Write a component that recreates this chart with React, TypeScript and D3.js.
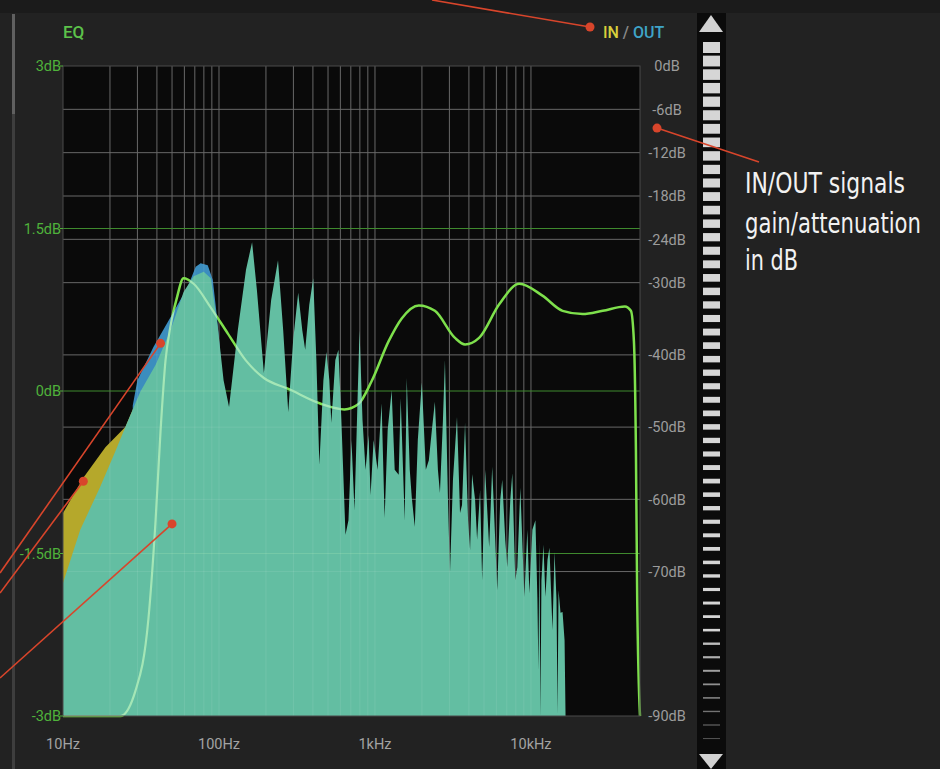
import React from "react";
import * as d3 from "d3";

// axis ticks
const freqTicks = [10, 100, 1000, 10000];
const freqLabels = ["10Hz", "100Hz", "1kHz", "10kHz"];
const eqTicks = [3, 1.5, 0, -1.5, -3];
const eqLabels = ["3dB", "1.5dB", "0dB", "-1.5dB", "-3dB"];
const eqGreenLines = [1.5, 0, -1.5];
const levelTicks = [0, -6, -12, -18, -24, -30, -40, -50, -60, -70, -90];

// spectrum (IN and OUT overlap), [Hz, dB]
const spectrum: [number, number][] = [
  [10, -71.6], [12.9, -64.2], [17.3, -58.3], [21.6, -53.4], [25.1, -50.0], [31.3, -45.1],
  [39.2, -41.4], [48.9, -36.6], [59.3, -31.3], [68.8, -29.1], [79.8, -28.5], [88.6, -29.4],
  [98.2, -36.1], [107, -43.5], [116, -47.2], [132, -36.6], [149, -28.2], [163, -24.4],
  [175, -31.0], [194, -42.5], [216, -32.4], [239, -26.9], [258, -36.6], [278, -47.9],
  [299, -37.9], [322, -31.4], [342, -36.6], [357, -39.3], [379, -33.1], [402, -29.4],
  [421, -40.7], [440, -55.2], [467, -43.5], [488, -39.6], [510, -43.5], [525, -49.4],
  [557, -40.7], [583, -39.3], [609, -49.0], [647, -64.9], [676, -62.9], [707, -51.8],
  [739, -61.5], [773, -46.2], [796, -36.6], [832, -49.0], [870, -55.9], [910, -51.1],
  [937, -59.4], [980, -51.8], [1039, -55.9], [1103, -46.7], [1153, -62.6], [1206, -50.4],
  [1279, -44.9], [1338, -55.9], [1419, -56.6], [1462, -46.0], [1551, -62.9], [1598, -43.2],
  [1671, -55.9], [1721, -59.7], [1800, -63.8], [1882, -51.8], [1997, -43.8], [2118, -55.9],
  [2215, -54.6], [2316, -50.4], [2421, -46.5], [2532, -55.9], [2609, -59.1], [2727, -49.0],
  [2809, -40.7], [2937, -60.1], [3025, -70.2], [3162, -57.3], [3356, -48.6], [3509, -61.9],
  [3614, -60.8], [3779, -49.4], [3952, -62.9], [4071, -67.0], [4193, -56.5], [4384, -60.1],
  [4515, -65.6], [4721, -58.7], [4863, -71.2], [5085, -55.9], [5395, -66.6], [5641, -55.5],
  [5898, -65.6], [6076, -72.6], [6352, -60.1], [6545, -57.3], [6842, -65.6], [7047, -69.4],
  [7368, -60.1], [7590, -56.4], [7935, -71.2], [8175, -69.4], [8547, -58.4], [9069, -73.5],
  [9480, -64.2], [9765, -73.0], [10210, -64.2], [10680, -62.9], [11000, -73.9], [11160, -83.6],
  [11330, -65.6], [11500, -90], [11670, -71.2], [12020, -66.3], [12380, -73.5], [12760, -68.4],
  [13140, -66.7], [13740, -78.1], [14160, -67.3], [14580, -73.9], [14800, -89.6], [15020, -72.6],
  [15470, -75.7], [15940, -75.6], [16420, -79.5], [16660, -90],
];

// where IN is louder than OUT
const inOnly: [number, number][] = [
  [10, -61.9], [13.5, -57.0], [18.7, -52.8], [25.1, -50.0], [31.3, -45.1], [40, -48],
];

// where OUT is louder than IN
const outOnly: [number, number][] = [
  [28, -47], [30, -43.5], [38, -38.9], [48.9, -34.8], [63, -30.6], [70.9, -27.8],
  [76.3, -27.3], [84.7, -27.6], [91.2, -29.6], [96.8, -34.5], [102.7, -40.7],
];

// EQ response, [Hz, dB] on the ±3dB scale
const eqCurve: [number, number][] = [
  [10, -3], [23.3, -3], [29.1, -2.77], [35.3, -2.1], [39.2, -1.2], [42.2, -0.37],
  [45.4, 0.28], [48.9, 0.6], [53.5, 0.85], [59.3, 1.04], [68.8, 0.99], [88.6, 0.77],
  [114, 0.53], [149, 0.28], [194, 0.12], [278, 0.02], [453, -0.12], [637, -0.17],
  [784, -0.12], [951, 0.09], [1224, 0.46], [1484, 0.67], [1910, 0.79], [2421, 0.74],
  [3257, 0.49], [3779, 0.43], [4650, 0.49], [6258, 0.8], [8422, 0.99], [11845, 0.88],
  [15940, 0.74], [21440, 0.71], [28850, 0.74], [39990, 0.78], [43710, 0.74], [45700, 0.46],
  [47080, -0.55], [48000, -1.94], [50000, -3],
];

const W = 940;
const H = 769;
const plot = { left: 63, right: 640, top: 66, bottom: 716 };
const RED = "#d8452b";
const GRID = "#686868";
const LABEL_FONT = "Roboto, 'DejaVu Sans', sans-serif";
const NOTE_FONT = "'DejaVu Sans Condensed', 'DejaVu Sans', sans-serif";

const App = () => {
  const x = d3.scaleLog().domain([10, 50000]).range([plot.left, plot.right]);
  const yEq = d3.scaleLinear().domain([-3, 3]).range([plot.bottom, plot.top]);
  const yLevel = d3.scaleLinear().domain([-90, 0]).range([plot.bottom, plot.top]);

  const area = d3
    .area<[number, number]>()
    .x((d) => x(d[0]))
    .y0(yLevel(-90))
    .y1((d) => yLevel(d[1]));
  const eqLine = d3
    .line<[number, number]>()
    .x((d) => x(d[0]))
    .y((d) => yEq(d[1]))
    .curve(d3.curveMonotoneX);

  const gridFreqs = d3
    .range(1, 5)
    .flatMap((e) => d3.range(1, 10).map((m) => m * 10 ** e))
    .filter((f) => f > 10 && f <= 10000);

  const grid = (stroke: string, op: number, pre: string) => (
    <g stroke={stroke} strokeOpacity={op}>
      {gridFreqs.map((f) => (
        <line key={pre + f} x1={x(f)} x2={x(f)} y1={plot.top} y2={plot.bottom} />
      ))}
      {levelTicks.slice(1, -1).map((t) => (
        <line key={pre + "h" + t} x1={plot.left} x2={plot.right} y1={yLevel(t)} y2={yLevel(t)} />
      ))}
    </g>
  );

  // meter segments of the scroll strip
  const segs = d3.range(52);
  const segH = d3.scaleLinear().domain([0, 51]).range([11, 1]);
  const segColor = (i: number) =>
    i < 44 ? "#d6d6d6" : d3.interpolateRgb("#bdbdbd", "#555")((i - 44) / 7);

  const notes = [
    { from: [432, 0], to: [590, 27] },
    { from: [759, 162], to: [657, yLevel(-8.6)] },
    { from: [0, 573], to: [x(42.2), yLevel(-38.4)] },
    { from: [0, 593], to: [x(13.5), yLevel(-57.5)] },
    { from: [0, 678], to: [x(50), yLevel(-63.4)] },
  ];

  const noteLines = [
    { text: "IN/OUT signals", y: 193, len: 160 },
    { text: "gain/attenuation", y: 233, len: 176 },
    { text: "in dB", y: 270, len: 53 },
  ];

  return (
    <svg
      width={W}
      height={H}
      style={{ position: "absolute", left: 0, top: 0, display: "block" }}
    >
      <defs>
        <clipPath id="fillClip">
          <path d={area(spectrum) || ""} />
          <path d={area(outOnly) || ""} />
        </clipPath>
      </defs>
      <rect width={W} height={H} fill="#222222" />
      <rect width={W} height={13} fill="#1b1b1b" />
      <rect x={12} y={14} width={3} height={H - 14} fill="#3e3e3e" />
      <rect x={12} y={14} width={3} height={100} fill="#606060" />

      {/* plot */}
      <rect
        x={plot.left}
        y={plot.top}
        width={plot.right - plot.left}
        height={plot.bottom - plot.top}
        fill="#0a0a0a"
      />
      {grid(GRID, 1, "g")}
      {eqGreenLines.map((t) => (
        <line key={t} x1={plot.left} x2={plot.right} y1={yEq(t)} y2={yEq(t)} stroke="#3f8a2e" />
      ))}

      <path d={eqLine(eqCurve) || ""} fill="none" stroke="#7ee04c" strokeWidth={2.5} />

      <path d={area(inOnly) || ""} fill="#b5a82b" />
      <path d={area(outOnly) || ""} fill="#3b8dbe" />
      <path d={area(spectrum) || ""} fill="#63bea2" />

      {/* grid faintly visible through the fill */}
      <g clipPath="url(#fillClip)">
        {grid("#ffffff", 0.09, "o")}
        {eqGreenLines.map((t) => (
          <line
            key={"o" + t}
            x1={plot.left}
            x2={plot.right}
            y1={yEq(t)}
            y2={yEq(t)}
            stroke="#c8ffc0"
            strokeOpacity={0.18}
          />
        ))}
      </g>

      <path
        d={eqLine(eqCurve) || ""}
        fill="none"
        stroke="#a4e6b6"
        strokeWidth={2.2}
        clipPath="url(#fillClip)"
      />

      <rect
        x={plot.left}
        y={plot.top}
        width={plot.right - plot.left}
        height={plot.bottom - plot.top}
        fill="none"
        stroke="#4a4a4a"
      />

      {/* left EQ axis */}
      {eqTicks.map((t, i) => (
        <g key={t}>
          <line x1={plot.left - 3} x2={plot.left} y1={yEq(t)} y2={yEq(t)} stroke="#4fae3a" />
          <text
            x={plot.left - 2}
            y={yEq(t)}
            dy="0.36em"
            textAnchor="end"
            fill="#4fb23b"
            fontFamily={LABEL_FONT}
            fontSize={14.5}
          >
            {eqLabels[i]}
          </text>
        </g>
      ))}

      {/* right level axis */}
      {levelTicks.map((t) => (
        <text
          key={t}
          x={667}
          y={yLevel(t)}
          dy="0.36em"
          textAnchor="middle"
          fill="#9c9c9c"
          fontFamily={LABEL_FONT}
          fontSize={14.5}
        >
          {`${t}dB`}
        </text>
      ))}

      {/* frequency axis */}
      {freqTicks.map((f, i) => (
        <text
          key={f}
          x={x(f)}
          y={749}
          textAnchor="middle"
          fill="#a3a3a3"
          fontFamily={LABEL_FONT}
          fontSize={14.5}
        >
          {freqLabels[i]}
        </text>
      ))}

      <text x={63} y={38} fill="#5cc24a" fontFamily={LABEL_FONT} fontSize={17} fontWeight={500}>
        EQ
      </text>
      <text x={603} y={38} fontFamily={LABEL_FONT} fontSize={16} fontWeight={500}>
        <tspan fill="#d8cf3c">IN</tspan>
        <tspan fill="#8a8a8a"> / </tspan>
        <tspan fill="#3fa4c8">OUT</tspan>
      </text>

      {/* scroll / meter strip */}
      <rect x={697} y={13} width={29} height={H - 13} fill="#0b0b0b" />
      <path d="M711,15 L723,32 L699,32 Z" fill="#d2d2d2" />
      {segs.map((i) => {
        const h = segH(i);
        const cy = 47.5 + i * 13.55;
        return <rect key={i} x={703} y={cy - h / 2} width={17} height={h} fill={segColor(i)} />;
      })}
      <path d="M699,754 L723,754 L711,769 Z" fill="#d2d2d2" />

      {/* annotations */}
      {notes.map((n, i) => (
        <g key={i}>
          <line
            x1={n.from[0]}
            y1={n.from[1]}
            x2={n.to[0]}
            y2={n.to[1]}
            stroke={RED}
            strokeWidth={1.6}
          />
          <circle cx={n.to[0]} cy={n.to[1]} r={4.5} fill={RED} />
        </g>
      ))}
      <g fill="#f2f2f2" fontFamily={NOTE_FONT} fontSize={28}>
        {noteLines.map((l) => (
          <text
            key={l.text}
            transform={`translate(745,${l.y}) scale(0.78,1)`}
            textLength={l.len / 0.78}
            lengthAdjust="spacingAndGlyphs"
          >
            {l.text}
          </text>
        ))}
      </g>
    </svg>
  );
};

export default App;
